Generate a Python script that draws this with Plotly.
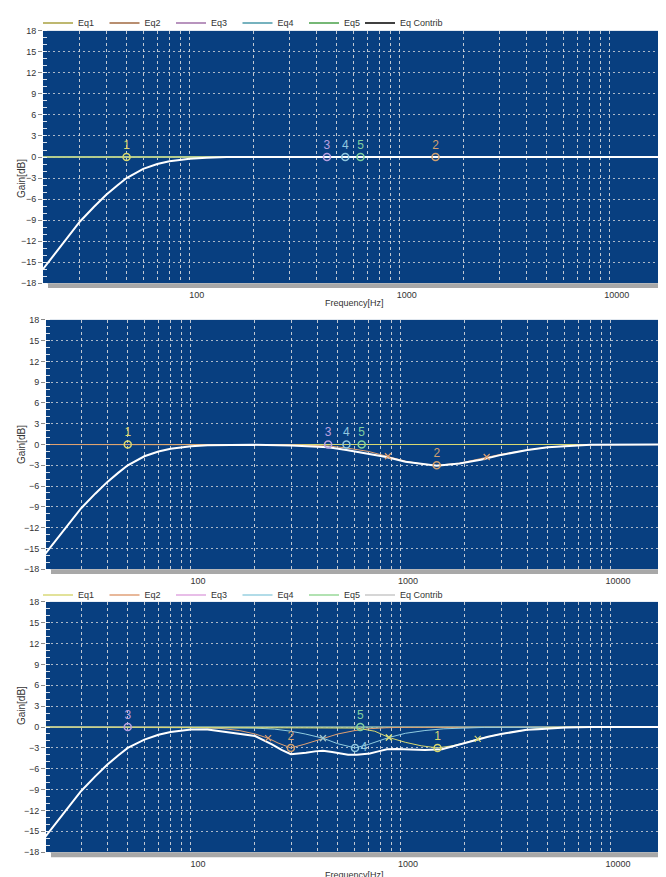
"""Three-panel parametric EQ response plots (gain vs. frequency)."""

import math

import plotly.graph_objects as go

# the page puts the figure 8 px in from the top-left corner, so every
# reference pixel position below is shifted by OFF when laid out
OFF = 8
W, H = 666 - OFF, 877 - OFF

# ---- data -------------------------------------------------------------------
eq_names = ["Eq1", "Eq2", "Eq3", "Eq4", "Eq5"]
contrib_name = "Eq Contrib"

# high-pass part common to every "Eq Contrib" curve
hpf_freq = [20, 22, 25, 30, 35, 40, 45, 50, 60, 70, 80, 90, 100, 120, 150]
hpf_gain = [-16.0, -14.4, -12.3, -9.2, -7.1, -5.4, -4.1, -3.0, -1.7, -1.0, -0.6, -0.4, -0.25, -0.1, 0.0]

flat_freq = [20, 20000]
flat_gain = [0, 0]

# panel 1
p1_contrib_freq = hpf_freq + [200, 20000]
p1_contrib_gain = hpf_gain + [0.0, 0.0]
p1_points = {"1": (50, 0), "3": (450, 0), "4": (550, 0), "5": (650, 0), "2": (1480, 0)}

# panel 2
p2_contrib_freq = [20, 22, 25, 30, 35, 40, 45, 50, 60, 70, 80, 90, 100, 120, 150, 200, 300, 400,
                   450, 550, 700, 850, 1050, 1250, 1480, 1900, 2400, 3000, 4000, 5000, 6500, 8000, 20000]
p2_contrib_gain = [-16.0, -14.4, -12.3, -9.2, -7.1, -5.4, -4.1, -3.0, -1.7, -1.0, -0.6, -0.4, -0.25, -0.1,
                   -0.05, -0.05, -0.15, -0.3, -0.4, -0.8, -1.3, -1.8, -2.5, -2.8, -3.05, -2.75, -2.2, -1.5,
                   -0.8, -0.4, -0.15, -0.05, 0.0]
p2_eq2_freq = [20, 300, 450, 550, 700, 867, 1050, 1250, 1480, 1900, 2560, 3000, 4000, 5000, 6500, 8000, 20000]
p2_eq2_gain = [0, -0.05, -0.2, -0.5, -1.0, -1.7, -2.4, -2.8, -3.0, -2.7, -1.8, -1.4, -0.8, -0.4, -0.15, -0.05, 0]
p2_eq2_bw = ([867, 2560], [-1.7, -1.8])
p2_points = {"1": (50, 0), "3": (450, 0), "4": (550, 0), "5": (650, 0), "2": (1480, -3.0)}

# panel 3
p3_contrib_freq = [20, 22, 25, 30, 35, 40, 45, 50, 60, 70, 80, 90, 100, 120, 139, 170, 202, 243, 270, 299,
                   330, 353, 390, 425, 470, 512, 560, 617, 660, 711, 780, 858, 950, 1080, 1300, 1568, 1700,
                   1889, 2275, 2600, 2997, 3500, 3974, 4500, 5261, 6076, 8000, 20000]
p3_contrib_gain = [-16.0, -14.4, -12.3, -9.2, -7.1, -5.4, -4.1, -3.0, -1.8, -1.1, -0.7, -0.5, -0.35, -0.35,
                   -0.6, -0.9, -1.3, -2.5, -3.3, -3.9, -3.8, -3.7, -3.5, -3.4, -3.6, -3.8, -4.0, -4.0, -3.95,
                   -3.8, -3.5, -3.2, -3.15, -3.2, -3.3, -3.2, -2.9, -2.5, -1.8, -1.4, -1.0, -0.7, -0.4, -0.3,
                   -0.15, -0.05, 0.0, 0.0]
p3_eq2_freq = [20, 100, 139, 170, 202, 233, 260, 299, 345, 380, 425, 500, 604, 700, 850, 1000, 20000]
p3_eq2_gain = [0, -0.05, -0.2, -0.5, -1.0, -1.6, -2.3, -3.0, -2.5, -2.1, -1.6, -1.0, -0.5, -0.25, -0.1, -0.05, 0]
p3_eq4_freq = [20, 150, 202, 250, 299, 350, 425, 500, 604, 700, 876, 1050, 1300, 1600, 1889, 2500, 20000]
p3_eq4_gain = [0, -0.05, -0.15, -0.3, -0.6, -1.0, -1.6, -2.4, -3.0, -2.5, -1.5, -0.9, -0.5, -0.25, -0.15, -0.05, 0]
p3_eq1_freq = [20, 400, 617, 750, 876, 1050, 1250, 1493, 1750, 2000, 2320, 3000, 3974, 5261, 7000, 20000]
p3_eq1_gain = [0, -0.05, -0.15, -0.6, -1.5, -2.2, -2.7, -3.0, -2.7, -2.3, -1.7, -1.0, -0.4, -0.05, 0, 0]
p3_eq2_bw = ([233, 425], [-1.6, -1.6])
p3_eq4_bw = ([425, 876], [-1.6, -1.5])
p3_eq1_bw = ([876, 2320], [-1.5, -1.7])
p3_points = {"3": (50, 0), "2": (299, -3.0), "5": (640, 0), "4": (604, -3.0), "1": (1493, -3.0)}

y_ticks = [-18, -15, -12, -9, -6, -3, 0, 3, 6, 9, 12, 15, 18]
x_grid = [m * 10 ** d for d in (1, 2, 3) for m in range(1, 10)] + [10000, 20000]
x_grid = [v for v in x_grid if v >= 20]
x_labels = ["100", "1000", "10000"]

# ---- styling ----------------------------------------------------------------
BG = "#083f80"
legend_dark = {"Eq1": "#a8a040", "Eq2": "#a06840", "Eq3": "#a070a8", "Eq4": "#4898a8",
               "Eq5": "#48a048", "Eq Contrib": "#000000"}
legend_light = {"Eq1": "#d8d878", "Eq2": "#e0a078", "Eq3": "#e0a8e0", "Eq4": "#98d0e0",
                "Eq5": "#98d898", "Eq Contrib": "#c8c8c8"}
line_col = {"Eq1": "#d8d870", "Eq2": "#e0a070", "Eq3": "#c8a0e0", "Eq4": "#90cce0", "Eq5": "#80d090"}
pt_col = {"1": "#d8d870", "2": "#d0a070", "3": "#b8a0e0", "4": "#90c8e0", "5": "#80d0a0"}

FONT = "Liberation Sans, Arial, sans-serif"

# reference pixel boxes (left, top, bottom) of the three plot areas
panels = [(43, 25, 279), (46, 316, 567), (46, 600, 852)]
x_left_hz = [20, 20.4, 20.4]


def px_x(p):
    return (p - OFF) / W


def px_y(p):
    return 1 - (p - OFF) / H


fig = go.Figure()


def ax(i):
    return ("x", "y") if i == 0 else (f"x{i + 1}", f"y{i + 1}")


def add_line(i, f, g, color, width=1):
    xa, ya = ax(i)
    fig.add_trace(go.Scatter(x=f, y=g, mode="lines", line=dict(color=color, width=width),
                             xaxis=xa, yaxis=ya, showlegend=False, hoverinfo="skip"))


def add_points(i, pts, label_pos=None):
    xa, ya = ax(i)
    label_pos = label_pos or {}
    for lab, (f, g) in pts.items():
        fig.add_trace(go.Scatter(
            x=[f], y=[g], mode="markers+text", text=[lab],
            textposition=label_pos.get(lab, "top center"),
            textfont=dict(color=pt_col[lab], size=12, family=FONT),
            marker=dict(symbol="circle-open", size=7, color=pt_col[lab], line=dict(width=1.5)),
            xaxis=xa, yaxis=ya, showlegend=False, hoverinfo="skip"))


def add_bw(i, bw, color):
    xa, ya = ax(i)
    fig.add_trace(go.Scatter(x=bw[0], y=bw[1], mode="markers",
                             marker=dict(symbol="x-thin", size=6, color=color, line=dict(width=1.2, color=color)),
                             xaxis=xa, yaxis=ya, showlegend=False, hoverinfo="skip"))


def add_legend(legend_id, contrib_legend_id, colors):
    for name in eq_names + [contrib_name]:
        fig.add_trace(go.Scatter(x=[None], y=[None], mode="lines", name=name,
                                 line=dict(color=colors[name], width=1.5),
                                 legend=contrib_legend_id if name == contrib_name else legend_id,
                                 showlegend=True))


# panel 1
for name in ["Eq2", "Eq3", "Eq4", "Eq5", "Eq1"]:
    add_line(0, flat_freq, flat_gain, line_col[name])
add_line(0, p1_contrib_freq, p1_contrib_gain, "white", 2)
add_points(0, p1_points)

# panel 2
for name in ["Eq3", "Eq4", "Eq5", "Eq1"]:
    add_line(1, flat_freq, flat_gain, line_col[name])
add_line(1, p2_eq2_freq, p2_eq2_gain, line_col["Eq2"])
add_line(1, p2_contrib_freq, p2_contrib_gain, "white", 2)
add_bw(1, p2_eq2_bw, line_col["Eq2"])
add_points(1, p2_points)

# panel 3
add_line(2, flat_freq, flat_gain, line_col["Eq3"])
add_line(2, flat_freq, flat_gain, line_col["Eq5"])
add_line(2, p3_eq2_freq, p3_eq2_gain, line_col["Eq2"])
add_line(2, p3_eq4_freq, p3_eq4_gain, line_col["Eq4"])
add_line(2, p3_eq1_freq, p3_eq1_gain, line_col["Eq1"])
add_line(2, p3_contrib_freq, p3_contrib_gain, "white", 2)
add_bw(2, p3_eq2_bw, line_col["Eq2"])
add_bw(2, p3_eq4_bw, line_col["Eq4"])
add_bw(2, p3_eq1_bw, line_col["Eq1"])
add_points(2, p3_points, {"4": "middle right"})

# legends (panel 1 and panel 3); "Eq Contrib" sits in its own legend so its text is not clipped
add_legend("legend", "legend2", legend_dark)
add_legend("legend3", "legend4", legend_light)

legend_common = dict(orientation="h", xanchor="left", yanchor="middle", bgcolor="rgba(0,0,0,0)",
                     font=dict(size=9, color="#333", family=FONT), entrywidthmode="pixels",
                     entrywidth=21.5, itemwidth=30, borderwidth=0)
contrib_common = dict(orientation="h", xanchor="left", yanchor="middle", bgcolor="rgba(0,0,0,0)",
                      font=dict(size=9, color="#333", family=FONT), itemwidth=30, borderwidth=0)

layout = dict(
    width=W, height=H, margin=dict(l=0, r=0, t=0, b=0),
    paper_bgcolor="white", plot_bgcolor=BG, font=dict(family=FONT, size=9, color="#333"),
    legend=dict(x=px_x(38), y=px_y(17), **legend_common),
    legend2=dict(x=px_x(360), y=px_y(17), **contrib_common),
    legend3=dict(x=px_x(38), y=px_y(593), **legend_common),
    legend4=dict(x=px_x(360), y=px_y(593), **contrib_common),
    shapes=[], annotations=[],
)

for i, (left, top, bottom) in enumerate(panels):
    sfx = "" if i == 0 else str(i + 1)
    x_lo = math.log10(x_left_hz[i])
    x_hi = x_lo + (666 - left) / 210.0
    layout["xaxis" + sfx] = dict(
        type="log", range=[x_lo, x_hi], domain=[px_x(left), 1], anchor="y" + sfx,
        tickvals=x_grid, ticktext=[str(v) if str(v) in x_labels else "" for v in x_grid],
        ticks="", ticklabelstandoff=5, ticklabelshift=7, tickfont=dict(size=9, color="#333"),
        showgrid=True, gridcolor="rgba(225,225,225,0.85)", griddash="3px,3px", gridwidth=1,
        zeroline=False, showline=False, automargin=False, fixedrange=True,
    )
    layout["yaxis" + sfx] = dict(
        range=[-18, 18], domain=[px_y(bottom), px_y(top)], anchor="x" + sfx,
        tickvals=y_ticks, ticks="outside", ticklen=4, tickcolor="#888", tickfont=dict(size=9, color="#333"),
        showgrid=True, gridcolor="rgba(225,225,225,0.75)", griddash="2px,3px", gridwidth=1,
        minor=dict(dtick=1, tick0=0, ticks="inside", ticklen=4, tickcolor="rgba(255,255,255,0.85)",
                   showgrid=False),
        zeroline=False, showline=False, automargin=False, fixedrange=True,
    )
    # grey strip under each plot area
    layout["shapes"].append(dict(type="rect", xref="paper", yref="paper",
                                 x0=px_x(left + 5), x1=1, y0=px_y(bottom + 5), y1=px_y(bottom),
                                 fillcolor="#a8a8a8", line=dict(width=0), layer="above"))
    layout["annotations"].append(dict(text="Gain[dB]", textangle=-90, xref="paper", yref="paper",
                                      x=px_x(14), y=px_y((top + bottom) / 2), showarrow=False,
                                      font=dict(size=10, color="#333")))

layout["annotations"].append(dict(text="Frequency[Hz]", xref="paper", yref="paper", x=px_x(354),
                                  y=px_y(299), showarrow=False, font=dict(size=9, color="#333")))
layout["annotations"].append(dict(text="Frequency[Hz]", xref="paper", yref="paper", x=px_x(354),
                                  y=px_y(868), yanchor="top", showarrow=False,
                                  font=dict(size=9, color="#333")))

fig.update_layout(**layout)
fig.write_html("out.html")
